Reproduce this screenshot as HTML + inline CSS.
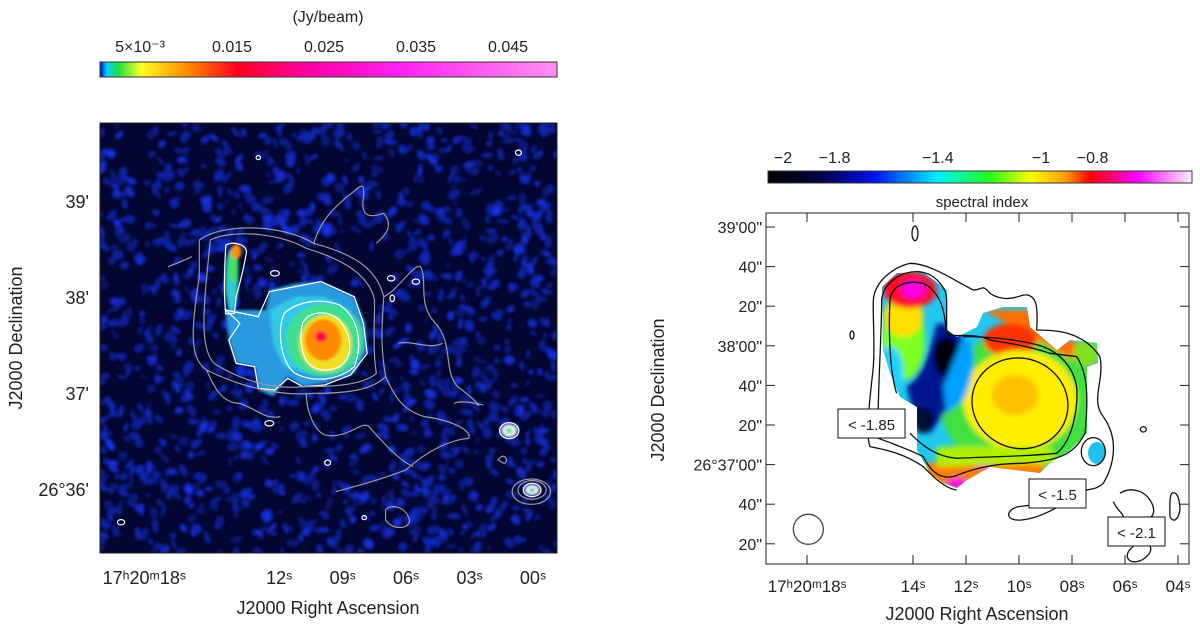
<!DOCTYPE html>
<html><head><meta charset="utf-8">
<style>
html,body{margin:0;padding:0;background:#fff;}
svg{display:block;font-family:"Liberation Sans",sans-serif;}
text{fill:#222;}
</style></head>
<body>
<svg id="fig" width="1200" height="630" viewBox="0 0 1200 630">
<defs>
<linearGradient id="cbL" x1="0" x2="1">
<stop offset="0" stop-color="#0010c0"/><stop offset="0.015" stop-color="#00d0ff"/><stop offset="0.04" stop-color="#20e040"/>
<stop offset="0.09" stop-color="#ffff20"/><stop offset="0.2" stop-color="#ff8000"/><stop offset="0.3" stop-color="#ff0020"/>
<stop offset="0.45" stop-color="#ff00a0"/><stop offset="0.65" stop-color="#ff20f0"/><stop offset="1" stop-color="#ff90f0"/>
</linearGradient>
<linearGradient id="cbR" x1="0" x2="1">
<stop offset="0" stop-color="#000000"/><stop offset="0.12" stop-color="#000040"/><stop offset="0.25" stop-color="#0010f0"/>
<stop offset="0.4" stop-color="#00f0ff"/><stop offset="0.52" stop-color="#20ff20"/><stop offset="0.62" stop-color="#ffff00"/>
<stop offset="0.7" stop-color="#ffa000"/><stop offset="0.76" stop-color="#ff0000"/><stop offset="0.87" stop-color="#ff00ff"/>
<stop offset="1" stop-color="#fff0ff"/>
</linearGradient>
<clipPath id="clipL"><rect x="100" y="123" width="457" height="430"/></clipPath>
<clipPath id="clipR"><path d="M882,287 L897,273 L923,272 L947,290 L947,330 L957,337 L977,327 L983,313 L1003,307 L1027,307 L1030,327 L1057,350 L1070,340 L1097,343 L1098,363 L1087,367 L1087,433 L1070,450 L1050,463 L1040,473 L990,467 L967,480 L957,488 L943,483 L930,473 L917,450 L917,407 L900,397 L890,373 L883,350 Z"/></clipPath>
<filter id="blur8" x="-50%" y="-50%" width="200%" height="200%"><feGaussianBlur stdDeviation="8"/></filter>
<filter id="blur4" x="-50%" y="-50%" width="200%" height="200%"><feGaussianBlur stdDeviation="4"/></filter>
<filter id="blur2" x="-50%" y="-50%" width="200%" height="200%"><feGaussianBlur stdDeviation="1.5"/></filter>
</defs>

<!-- LEFT COLORBAR -->
<g>
<text x="328" y="22" font-size="16" text-anchor="middle">(Jy/beam)</text>
<rect x="100" y="62" width="457" height="15" fill="url(#cbL)" stroke="#333" stroke-width="1"/>
<g id="cbLticks"></g>
</g>

<!-- LEFT PANEL -->
<g>
<rect x="100" y="123" width="457" height="430" fill="#020630"/>
<g clip-path="url(#clipL)">
<g id="noise" filter="url(#blur2)"></g>
<g transform="translate(0,110) scale(0.369,0.3333)">
<g filter="url(#blur4)">
<path d="M610,600 L720,600 L730,540 L800,520 L870,515 L960,560 L990,640 L995,720 L960,790 L880,820 L820,830 L780,800 L740,860 L700,840 L690,770 L640,760 L620,690 Z" fill="#2a9ae0"/>
<path d="M730,600 L800,560 L880,560 L950,600 L975,700 L940,780 L860,800 L770,770 L740,700 Z" fill="#30c8e8"/>
<ellipse cx="880" cy="690" rx="105" ry="108" fill="#40e090"/>
<ellipse cx="882" cy="700" rx="70" ry="85" fill="#f0e020"/>
<ellipse cx="876" cy="690" rx="50" ry="62" fill="#ff8a00"/>
<ellipse cx="870" cy="680" rx="16" ry="16" fill="#ff0040"/>
<ellipse cx="628" cy="510" rx="18" ry="95" fill="#30c8d0"/>
<ellipse cx="632" cy="470" rx="14" ry="50" fill="#40e060"/>
<ellipse cx="640" cy="425" rx="14" ry="22" fill="#ff9000"/>
<ellipse cx="1380" cy="962" rx="22" ry="20" fill="#e8f0ff"/>
<ellipse cx="1380" cy="962" rx="8" ry="8" fill="#30e040"/>
<ellipse cx="1442" cy="1140" rx="20" ry="16" fill="#f0f8ff"/>
<ellipse cx="1442" cy="1140" rx="8" ry="7" fill="#30d090"/>
</g>
<g fill="none" stroke="#ffffff" stroke-width="1.2">
<path vector-effect="non-scaling-stroke" d="M612,405 C630,395 665,400 668,425 C662,470 650,520 640,560 L635,610 L612,612 C606,560 608,480 612,405 Z"/>
<path vector-effect="non-scaling-stroke" d="M612,600 L700,620 L730,545 L800,530 L870,515 L960,560 L985,640 L995,730 L950,795 L880,825 L820,830 L780,805 L745,840 L700,835 L690,770 L640,760 L620,690 L650,640 Z"/>
<path vector-effect="non-scaling-stroke" d="M770,610 C800,580 860,560 920,585 C970,620 985,700 960,770 C920,810 850,820 800,790 C760,760 750,660 770,610 Z"/>
<path vector-effect="non-scaling-stroke" d="M820,640 C840,600 890,600 920,630 C955,680 960,740 920,770 C880,790 840,780 825,740 C815,710 812,670 820,640 Z"/>
<ellipse vector-effect="non-scaling-stroke" cx="1380" cy="962" rx="26" ry="24"/>
<ellipse vector-effect="non-scaling-stroke" cx="1442" cy="1140" rx="24" ry="20"/>
<ellipse vector-effect="non-scaling-stroke" cx="1405" cy="128" rx="8" ry="8"/>
<ellipse vector-effect="non-scaling-stroke" cx="700" cy="143" rx="6" ry="6"/>
<ellipse vector-effect="non-scaling-stroke" cx="745" cy="490" rx="12" ry="8"/>
<ellipse vector-effect="non-scaling-stroke" cx="1060" cy="505" rx="10" ry="8"/>
<ellipse vector-effect="non-scaling-stroke" cx="1127" cy="515" rx="10" ry="8"/>
<ellipse vector-effect="non-scaling-stroke" cx="888" cy="1058" rx="8" ry="8"/>
<ellipse vector-effect="non-scaling-stroke" cx="987" cy="1223" rx="6" ry="6"/>
<ellipse vector-effect="non-scaling-stroke" cx="328" cy="1237" rx="10" ry="8"/>
<ellipse vector-effect="non-scaling-stroke" cx="1063" cy="565" rx="6" ry="10"/>
<ellipse vector-effect="non-scaling-stroke" cx="730" cy="940" rx="12" ry="8"/>
</g>
<g fill="none" stroke="#9a9a9a" stroke-width="1.2">
<path vector-effect="non-scaling-stroke" d="M540,390 C600,340 760,340 850,400 C950,430 1020,470 1040,560 C1035,650 1030,700 1045,800 C1000,850 900,850 850,850 C760,860 650,830 560,780 C510,745 520,650 540,500 Z"/>
<path vector-effect="non-scaling-stroke" d="M570,390 C620,360 750,365 830,415 C920,445 1000,490 1015,570 C1015,660 1010,720 1020,790 C980,830 880,830 820,830 C740,840 650,810 580,760 C545,720 550,620 560,500 Z"/>
<path vector-effect="non-scaling-stroke" d="M455,470 C480,460 500,450 520,440 M850,400 C870,330 900,300 940,260 C970,240 990,200 985,260 C975,330 1010,320 1040,310 C1070,350 1040,380 1020,400"/>
<path vector-effect="non-scaling-stroke" d="M1045,800 C1070,860 1090,900 1150,920 C1220,930 1280,960 1270,985 C1220,990 1160,1020 1100,1080 C1030,1110 960,1130 910,1145 M1040,560 C1080,540 1120,460 1140,470 C1160,520 1130,580 1180,640 C1230,700 1200,780 1240,830 C1290,870 1310,900 1290,880"/>
<path vector-effect="non-scaling-stroke" d="M830,850 C830,900 850,960 880,975 C940,990 980,930 1000,950 C1040,1000 1080,1050 1120,1070 M560,780 C580,830 600,880 650,880 C700,900 720,930 760,920"/>
<path vector-effect="non-scaling-stroke" d="M1045,1200 C1060,1180 1100,1190 1110,1230 C1110,1260 1060,1260 1045,1230 Z"/>
<ellipse vector-effect="non-scaling-stroke" cx="1442" cy="1140" rx="38" ry="28"/>
<ellipse vector-effect="non-scaling-stroke" cx="1440" cy="1145" rx="52" ry="38"/>
<path vector-effect="non-scaling-stroke" d="M1350,1050 C1370,1020 1380,1060 1365,1060 Z M1080,700 C1120,690 1160,720 1200,700 M1230,880 C1250,870 1290,880 1310,885"/>
</g>
</g>
</g>
<rect x="100" y="123" width="457" height="430" fill="none" stroke="#222" stroke-width="1"/>
<g id="leftAxes"></g>
<text transform="translate(22,338) rotate(-90)" font-size="18" text-anchor="middle">J2000 Declination</text>
<text x="328" y="614" font-size="18" text-anchor="middle">J2000 Right Ascension</text>
</g>

<!-- RIGHT COLORBAR -->
<g>
<rect x="768" y="171" width="424" height="12" fill="url(#cbR)" stroke="#333" stroke-width="1"/>
<g id="cbRticks"></g>
<text x="982" y="207" font-size="15" text-anchor="middle">spectral index</text>
</g>

<!-- RIGHT PANEL -->
<g>
<rect x="766" y="213" width="423" height="351" fill="#fff"/>
<g clip-path="url(#clipR)">
<rect x="870" y="260" width="240" height="240" fill="#20c8f0"/>
<g transform="translate(690,200) scale(0.3333)" filter="url(#blur8)">
<ellipse cx="990" cy="610" rx="240" ry="210" fill="#40e040"/>
<path d="M880,330 L1060,330 L1120,420 L1200,430 L1220,500 L1150,480 L1080,440 Z" fill="#ff7000"/>
<ellipse cx="960" cy="420" rx="80" ry="50" fill="#ff3000"/>
<ellipse cx="1190" cy="460" rx="40" ry="40" fill="#80e020"/>
<ellipse cx="990" cy="600" rx="170" ry="150" fill="#ffee00"/>
<ellipse cx="975" cy="585" rx="70" ry="60" fill="#ffc000"/>
<path d="M740,370 C790,370 830,400 830,470 C820,560 780,620 720,700 L680,680 L650,560 C700,520 720,450 740,370 Z" fill="#001890"/>
<ellipse cx="770" cy="470" rx="40" ry="60" fill="#000010"/>
<ellipse cx="700" cy="660" rx="30" ry="40" fill="#000830"/>
<path d="M820,410 C860,420 860,520 820,600 L770,640 L760,560 Z" fill="#00a0ff"/>
<ellipse cx="640" cy="420" rx="65" ry="120" fill="#80ff20"/>
<ellipse cx="640" cy="350" rx="60" ry="60" fill="#ffe000"/>
<ellipse cx="660" cy="270" rx="80" ry="55" fill="#ff1020"/>
<ellipse cx="670" cy="268" rx="38" ry="28" fill="#ff00e0"/>
<ellipse cx="600" cy="520" rx="40" ry="80" fill="#20d0ff"/>
<path d="M700,790 L1060,780 L1060,830 L900,820 L820,870 L720,850 Z" fill="#ff8000"/>
<ellipse cx="800" cy="850" rx="30" ry="18" fill="#ff10d0"/>
<ellipse cx="880" cy="795" rx="30" ry="12" fill="#ff20a0"/>
<path d="M740,740 L1080,740 L1100,790 L740,800 Z" fill="#b0f000"/>
</g>
</g>
<ellipse cx="1097" cy="453" rx="9" ry="11" fill="#20c0f0"/>
<g transform="translate(690,200) scale(0.3333)" fill="none" stroke="#111" stroke-width="1.3">
<path vector-effect="non-scaling-stroke" d="M550,300 C555,240 615,200 660,190 C720,190 790,240 850,270 C880,270 875,250 900,280 C930,300 960,300 1000,285 C1040,280 1045,320 1040,390 C1100,390 1180,395 1230,470 C1245,540 1200,600 1240,650 C1290,720 1270,800 1240,850 C1220,870 1190,870 1150,875 C1100,900 1040,915 985,920 C945,930 945,965 995,960 C1050,955 1100,925 1160,885 M800,870 C760,865 720,820 700,800 C640,760 590,750 540,740 C525,700 540,600 550,500 C555,420 548,350 550,300"/>
<path vector-effect="non-scaling-stroke" d="M575,300 C580,250 630,215 680,215 C730,215 770,260 770,300 L770,405 C820,410 860,400 900,420 C960,430 1020,440 1080,460 L1160,470 C1195,520 1195,600 1185,700 C1150,770 1100,780 1000,790 C900,790 840,810 790,830 C740,840 715,800 700,770 C660,750 620,735 565,715 C560,620 575,420 575,300 Z"/>
<path vector-effect="non-scaling-stroke" d="M600,300 C605,255 650,240 700,250 C760,280 765,350 770,400 M660,700 C700,740 740,770 800,775 C900,770 1000,770 1100,760 C1150,720 1165,620 1160,560 C1150,500 1110,460 1060,440 C1000,420 900,410 820,410 M600,300 C595,400 600,520 620,580"/>
<ellipse vector-effect="non-scaling-stroke" cx="990" cy="610" rx="145" ry="135" transform="rotate(20 990 610)"/>
<ellipse vector-effect="non-scaling-stroke" cx="675" cy="100" rx="9" ry="22"/>
<ellipse vector-effect="non-scaling-stroke" cx="486" cy="405" rx="6" ry="12"/>
<ellipse vector-effect="non-scaling-stroke" cx="1360" cy="688" rx="9" ry="8"/>
<ellipse vector-effect="non-scaling-stroke" cx="1210" cy="755" rx="36" ry="42"/>
<path vector-effect="non-scaling-stroke" d="M1290,880 C1320,860 1360,870 1380,900 C1400,930 1390,960 1370,950 M1330,1040 C1300,1060 1310,1090 1340,1085 C1370,1080 1390,1050 1380,1040 M1270,905 C1280,930 1300,940 1300,950"/>
<path vector-effect="non-scaling-stroke" d="M1445,880 C1465,870 1470,910 1470,930 C1465,960 1450,970 1440,950 C1440,920 1438,895 1445,880 Z"/>
<circle vector-effect="non-scaling-stroke" cx="355" cy="988" r="45" stroke="#444"/>
</g>
<g>
<rect x="838" y="409" width="67" height="29" fill="#fff" stroke="#111"/>
<text x="871.5" y="430" font-size="15" text-anchor="middle">&lt; -1.85</text>
<rect x="1029" y="479" width="57" height="29" fill="#fff" stroke="#111"/>
<text x="1057.5" y="500" font-size="15" text-anchor="middle">&lt; -1.5</text>
<rect x="1108" y="517" width="57" height="29" fill="#fff" stroke="#111"/>
<text x="1136.5" y="538" font-size="15" text-anchor="middle">&lt; -2.1</text>
</g>
<rect x="766" y="213" width="423" height="351" fill="none" stroke="#222" stroke-width="1"/>
<g id="rightAxes"></g>
<text transform="translate(664,390) rotate(-90)" font-size="18" text-anchor="middle">J2000 Declination</text>
<text x="977" y="620" font-size="18" text-anchor="middle">J2000 Right Ascension</text>
</g>
</svg>

<script>
const NS = "http://www.w3.org/2000/svg";
const leftCbTicks = [0.005, 0.015, 0.025, 0.035, 0.045];
const leftCbLabels = ["5×10⁻³", "0.015", "0.025", "0.035", "0.045"];
const rightCbTicks = [-2, -1.8, -1.4, -1, -0.8];
const rightCbLabels = ["−2", "−1.8", "−1.4", "−1", "−0.8"];
const leftRaTicks = [18, 12, 9, 6, 3, 0];
const leftRaLabels = ["17ʰ20ᵐ18ˢ", "12ˢ", "09ˢ", "06ˢ", "03ˢ", "00ˢ"];
const leftDecTicks = [39, 38, 37, 36];
const leftDecLabels = ["39'", "38'", "37'", "26°36'"];
const rightRaTicks = [18, 14, 12, 10, 8, 6, 4];
const rightRaLabels = ["17ʰ20ᵐ18ˢ", "14ˢ", "12ˢ", "10ˢ", "08ˢ", "06ˢ", "04ˢ"];
const rightDecTicks = [180, 160, 140, 120, 100, 80, 60, 40, 20];
const rightDecLabels = ["39'00\"", "40\"", "20\"", "38'00\"", "40\"", "20\"", "26°37'00\"", "40\"", "20\""];

const xLeftCb = v => 94 + v * 9200;
const xRightCb = v => 783 + (v + 2) * 258;
const xLeftRa = s => 533 - s * 21.15;
const yLeftDec = m => 298 + (38 - m) * 96;
const xRightRa = s => 1178 - (s - 4) * 26.5;
const yRightDec = a => 227 + (180 - a) * 1.98;

function txt(parent, x, y, s, size, anchor) {
  const t = document.createElementNS(NS, "text");
  t.setAttribute("x", x); t.setAttribute("y", y);
  t.setAttribute("font-size", size); t.setAttribute("text-anchor", anchor);
  t.textContent = s; parent.appendChild(t); return t;
}
function ln(parent, x1, y1, x2, y2, c) {
  const l = document.createElementNS(NS, "line");
  l.setAttribute("x1", x1); l.setAttribute("y1", y1); l.setAttribute("x2", x2); l.setAttribute("y2", y2);
  l.setAttribute("stroke", c); l.setAttribute("stroke-width", "1");
  parent.appendChild(l); return l;
}

const g1 = document.getElementById("cbLticks");
leftCbTicks.forEach((v, i) => {
  const t = txt(g1, xLeftCb(v), 52, leftCbLabels[i], 16, "middle");
  
  
});
const g2 = document.getElementById("cbRticks");
rightCbTicks.forEach((v, i) => {
  const t = txt(g2, xRightCb(v), 163, rightCbLabels[i], 16, "middle");
  
  
});
const gl = document.getElementById("leftAxes");
leftRaTicks.forEach((s, i) => {
  const x = xLeftRa(s);
  const t = txt(gl, i === 0 ? x - 8 : x, 584, leftRaLabels[i], 18, "middle");
  
  
});
leftDecTicks.forEach((m, i) => {
  const t = txt(gl, 89, yLeftDec(m) + 6, leftDecLabels[i], 18, "end");
  
  
});
const gr = document.getElementById("rightAxes");
rightRaTicks.forEach((s, i) => {
  const x = xRightRa(s);
  const t = txt(gr, x, 592, rightRaLabels[i], 17, "middle");
  
  
  const a = ln(gr, x, 564, x, 555, "#222");
  
  
  const b = ln(gr, x, 213, x, 222, "#222");
  
  
});
rightDecTicks.forEach((a, i) => {
  const y = yRightDec(a);
  const t = txt(gr, 762, y + 6, rightDecLabels[i], 16, "end");
  
  
  const l1 = ln(gr, 766, y, 775, y, "#222");
  
  
  const l2 = ln(gr, 1189, y, 1180, y, "#222");
  
  
});

// background noise speckle (decorative texture, deterministic)
const ng = document.getElementById("noise");
let seed = 12345;
function rnd() { seed = (seed * 1103515245 + 12345) % 2147483648; return seed / 2147483648; }
for (let i = 0; i < 1500; i++) {
  const e = document.createElementNS(NS, "ellipse");
  e.setAttribute("cx", (100 + rnd() * 457).toFixed(1));
  e.setAttribute("cy", (123 + rnd() * 430).toFixed(1));
  e.setAttribute("rx", (2 + rnd() * 5).toFixed(1));
  e.setAttribute("ry", (1.5 + rnd() * 3.5).toFixed(1));
  e.setAttribute("transform", "rotate(" + Math.floor(rnd() * 180) + " " + e.getAttribute("cx") + " " + e.getAttribute("cy") + ")");
  const b = Math.floor(160 + rnd() * 90);
  e.setAttribute("fill", "rgb(" + Math.floor(b * 0.1) + "," + Math.floor(b * 0.22) + "," + b + ")");
  e.setAttribute("opacity", (0.45 + rnd() * 0.5).toFixed(2));
  
  
  ng.appendChild(e);
}
</script>
</body></html>
